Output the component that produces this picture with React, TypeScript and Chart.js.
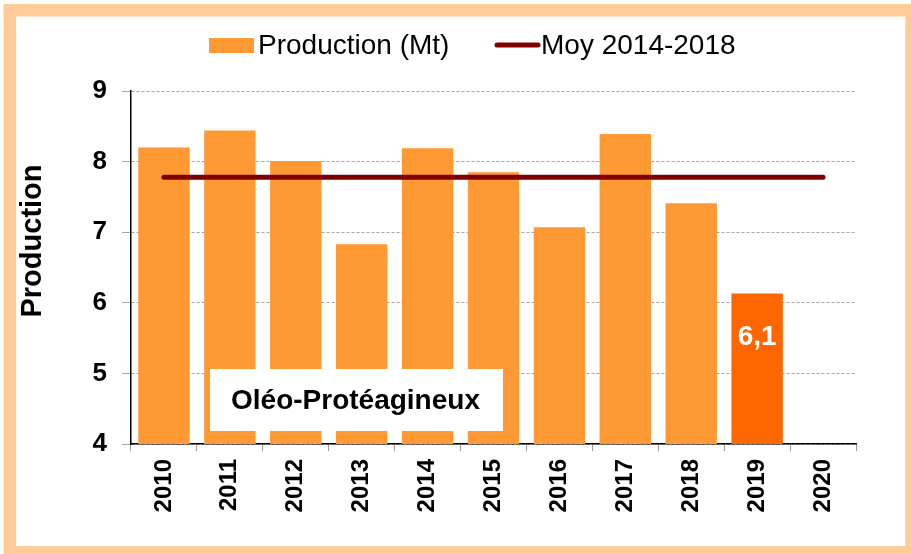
import React, { useEffect, useRef } from "react";
import { Chart, registerables } from "chart.js";

Chart.register(...registerables);

// ---------- Data ----------
const years = ["2010", "2011", "2012", "2013", "2014", "2015", "2016", "2017", "2018", "2019", "2020"];
const production = [8.2, 8.44, 8.01, 6.83, 8.19, 7.85, 7.07, 8.39, 7.41, 6.13, null];
const averageLine = [7.78, 7.78, 7.78, 7.78, 7.78, 7.78, 7.78, 7.78, 7.78, 7.78, 7.78];
const yMin = 4;
const yMax = 9;
const yStep = 1;
const legendLabels = ["Production (Mt)", "Moy 2014-2018"];
const yTitle = "Production";
const boxText = "Oléo-Protéagineux";
const highlightIndex = 9;
const highlightLabel = "6,1";

// ---------- Styles ----------
const FONT = "'Liberation Sans', Arial, Helvetica, sans-serif";
const BAR = "#FF9933";
const BAR_HI = "#FF6600";
const LINE = "#800000";
const FRAME = "#FFCC99";

const decorPlugin = {
  id: "decor",
  beforeDraw(chart: any) {
    const ctx = chart.ctx;
    ctx.save();
    ctx.fillStyle = "#ffffff";
    ctx.fillRect(0, 0, chart.width, chart.height);
    ctx.strokeStyle = FRAME;
    ctx.lineWidth = 12.5;
    ctx.strokeRect(9.75, 10.25, 911.5 - 9.75, 552.25 - 10.25);
    ctx.restore();
  },
  afterDatasetsDraw(chart: any) {
    const ctx = chart.ctx;
    const area = chart.chartArea;
    ctx.save();

    // Annotation box
    const bx = area.left + 79;
    const by = area.top + 278;
    const bw = 293;
    const bh = 62;
    ctx.fillStyle = "#ffffff";
    ctx.fillRect(bx, by, bw, bh);
    ctx.fillStyle = "#000000";
    ctx.font = `bold 28px ${FONT}`;
    ctx.textAlign = "center";
    ctx.textBaseline = "middle";
    ctx.fillText(boxText, bx + bw / 2 - 1, by + bh / 2 + 1);

    // Highlighted value label
    const meta = chart.getDatasetMeta(1);
    const bar = meta.data[highlightIndex];
    if (bar) {
      ctx.fillStyle = "#ffffff";
      ctx.font = `bold 28px ${FONT}`;
      ctx.textAlign = "center";
      ctx.textBaseline = "middle";
      ctx.fillText(highlightLabel, bar.x, bar.y + 44);
    }

    // Y-axis title
    ctx.save();
    ctx.translate(33, 241);
    ctx.rotate(-Math.PI / 2);
    ctx.fillStyle = "#000000";
    ctx.font = `bold 29px ${FONT}`;
    ctx.textAlign = "center";
    ctx.textBaseline = "middle";
    ctx.fillText(yTitle, 0, 0);
    ctx.restore();

    // Legend
    const ly = 45;
    ctx.fillStyle = BAR;
    ctx.fillRect(209, 38, 45, 15);
    ctx.fillStyle = "#000000";
    ctx.font = `28px ${FONT}`;
    ctx.textAlign = "left";
    ctx.textBaseline = "middle";
    ctx.fillText(legendLabels[0], 258, ly + 1);
    ctx.strokeStyle = LINE;
    ctx.lineWidth = 5;
    ctx.lineCap = "round";
    ctx.beginPath();
    ctx.moveTo(497, ly);
    ctx.lineTo(538, ly);
    ctx.stroke();
    ctx.fillText(legendLabels[1], 541, ly + 1);

    ctx.restore();
  },
};

export default function App() {
  const canvasRef = useRef<HTMLCanvasElement | null>(null);

  useEffect(() => {
    const canvas = canvasRef.current;
    if (!canvas) return;
    const chart = new Chart(canvas, {
      type: "bar",
      data: {
        labels: years,
        datasets: [
          {
            type: "line",
            label: legendLabels[1],
            data: averageLine,
            borderColor: LINE,
            backgroundColor: LINE,
            borderWidth: 5,
            borderCapStyle: "round",
            pointRadius: 0,
            fill: false,
            order: 1,
          } as any,
          {
            type: "bar",
            label: legendLabels[0],
            data: production,
            backgroundColor: years.map((_, i) => (i === highlightIndex ? BAR_HI : BAR)),
            borderWidth: 0,
            barPercentage: 0.78,
            categoryPercentage: 1,
            order: 2,
          } as any,
        ],
      },
      options: {
        responsive: false,
        maintainAspectRatio: false,
        animation: false,
        devicePixelRatio: 1,
        layout: { padding: { top: 91, left: 0, right: 55, bottom: 0 } },
        plugins: {
          legend: { display: false },
          tooltip: { enabled: false },
          title: { display: false },
        },
        scales: {
          x: {
            type: "category",
            offset: true,
            grid: {
              display: true,
              drawOnChartArea: false,
              offset: true,
              tickLength: 7,
              tickColor: "#9a9a9a",
              tickWidth: 1,
            },
            border: { display: true, color: "#000000", width: 1.5 },
            ticks: {
              color: "#000000",
              font: { family: FONT, size: 24, weight: "bold" },
              minRotation: 90,
              maxRotation: 90,
              padding: 8,
              autoSkip: false,
            },
            afterFit(scale: any) {
              scale.height = 110;
            },
          },
          y: {
            type: "linear",
            min: yMin,
            max: yMax,
            ticks: {
              stepSize: yStep,
              color: "#000000",
              font: { family: FONT, size: 26, weight: "bold" },
              padding: 15,
            },
            grid: {
              color: "#a6a6a6",
              lineWidth: 1,
              tickLength: 9,
              tickColor: "#a6a6a6",
              tickBorderDash: [],
            },
            border: { display: true, color: "#000000", width: 1.5, dash: [3, 2] },
            afterFit(scale: any) {
              scale.width = 131;
            },
          },
        },
      },
      plugins: [decorPlugin],
    } as any);
    return () => chart.destroy();
  }, []);

  return (
    <div style={{ position: "absolute", left: 0, top: 0, width: 911, height: 554, background: "#fff" }}>
      <canvas ref={canvasRef} width={911} height={554} style={{ width: 911, height: 554, display: "block" }} />
    </div>
  );
}
